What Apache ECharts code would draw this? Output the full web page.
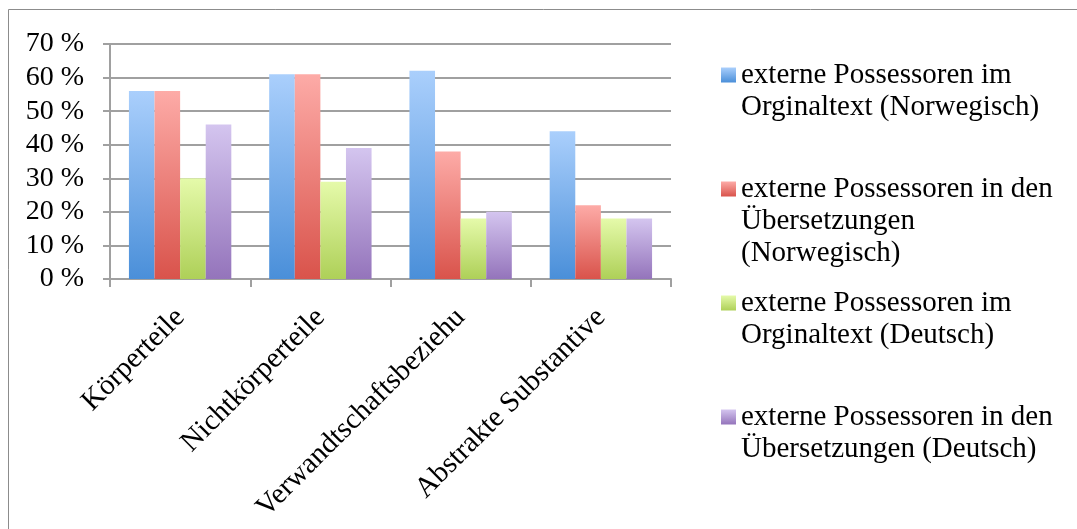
<!DOCTYPE html>
<html>
<head>
	<meta charset="utf-8">
	<title></title>
	<script src="https://cdn.jsdelivr.net/npm/echarts@6/dist/echarts.min.js"></script>
	<style>
	html, body { margin: 0; height: 100%; background: #fff; }
	#main { width: 1077px; height: 529px; }
	</style>
</head>
<body>
	<div id="main"></div>
	<script>
		var myChart = echarts.init(document.getElementById("main"));

		var categories = ['Körperteile', 'Nichtkörperteile', 'Verwandtschaftsbeziehu', 'Abstrakte Substantive'];
		var seriesNames = [
			'externe Possessoren im\nOrginaltext (Norwegisch)',
			'externe Possessoren in den\nÜbersetzungen\n(Norwegisch)',
			'externe Possessoren im\nOrginaltext (Deutsch)',
			'externe Possessoren in den\nÜbersetzungen (Deutsch)'
		];
		var origNorwegisch = [56, 61, 62, 44];
		var uebersNorwegisch = [56, 61, 38, 22];
		var origDeutsch = [30, 29, 18, 18];
		var uebersDeutsch = [46, 39, 20, 18];

		var values = [origNorwegisch, uebersNorwegisch, origDeutsch, uebersDeutsch];
		var gradients = [
			['#aacffc', '#4a8fd9'],
			['#fdaba7', '#d9534b'],
			['#e5faaa', '#aed058'],
			['#d4c5ef', '#9474bb']
		];
		var fontFamily = '"Liberation Serif", serif';
		var lh = 32;
		var legendTops = [27, 109, 255, 369];

		// prepend blank lines so the legend icon sits on the first text line
		function padName(name) {
			var n = name.split('\n').length;
			return new Array(n).join('\n') + name;
		}

		var series = [];
		var legends = [];
		for (var i = 0; i < 4; i++) {
			series.push({
				type: 'bar',
				name: seriesNames[i],
				data: values[i],
				barGap: '0%',
				barCategoryGap: '27%',
				itemStyle: {
					color: new echarts.graphic.LinearGradient(0, 0, 0, 1, [
						{ offset: 0, color: gradients[i][0] },
						{ offset: 1, color: gradients[i][1] }
					])
				}
			});
			legends.push({
				data: [seriesNames[i]],
				left: 721,
				top: legendTops[i],
				padding: 0,
				orient: 'vertical',
				selectedMode: false,
				icon: 'rect',
				itemWidth: 15,
				itemHeight: 15,
				formatter: padName,
				textStyle: {
					fontFamily: fontFamily,
					fontSize: 29,
					color: '#000',
					lineHeight: lh
				}
			});
		}

		option = {
			animation: false,
			backgroundColor: '#fff',
			textStyle: { fontFamily: fontFamily },
			graphic: [{
				type: 'rect',
				shape: { x: 8.5, y: 9.5, width: 1080, height: 530 },
				style: { fill: 'none', stroke: '#8c8c8c', lineWidth: 1 },
				silent: true
			}],
			legend: legends,
			grid: { left: 110, right: 406, top: 44, bottom: 250 },
			xAxis: {
				type: 'category',
				data: categories,
				axisLine: { lineStyle: { color: '#a0a0a0', width: 2 } },
				axisTick: { show: true, length: 8, lineStyle: { color: '#a0a0a0', width: 2 } },
				axisLabel: {
					rotate: 45,
					margin: 34,
					color: '#000',
					fontSize: 29,
					fontFamily: fontFamily
				}
			},
			yAxis: {
				type: 'value',
				min: 0,
				max: 70,
				interval: 10,
				axisLine: { show: true, lineStyle: { color: '#a0a0a0', width: 2 } },
				axisTick: { show: true, length: 7, lineStyle: { color: '#a0a0a0', width: 2 } },
				splitLine: { lineStyle: { color: '#a0a0a0', width: 2 } },
				axisLabel: {
					formatter: '{value} %',
					margin: 26,
					color: '#000',
					fontSize: 28,
					fontFamily: fontFamily
				}
			},
			series: series
		};
		myChart.setOption(option);
	</script>
</body>
</html>
